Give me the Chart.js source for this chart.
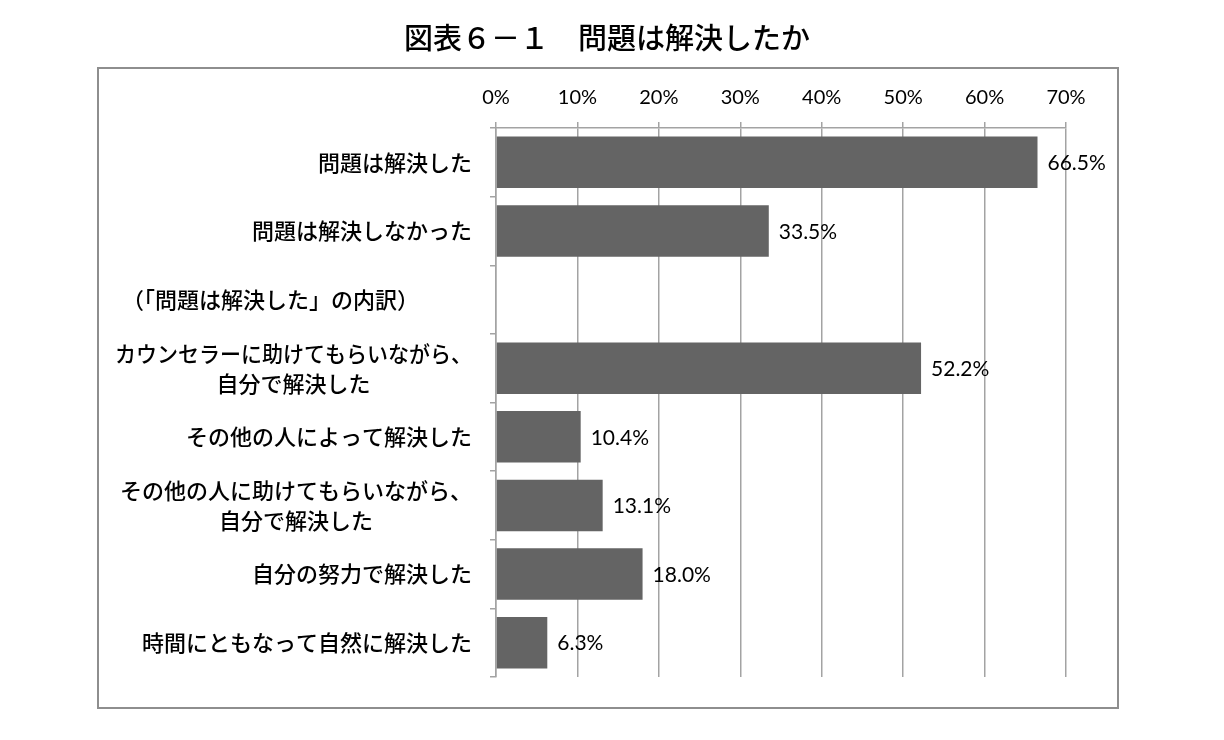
<!DOCTYPE html>
<html lang="ja">
<head>
<meta charset="utf-8">
<title>問題は解決したか</title>
<script src="https://cdn.jsdelivr.net/npm/chart.js@4.4.1/dist/chart.umd.min.js"></script>
<style>
    body { margin: 0; background: #ffffff; }
    #chart { display: block; }
</style>
</head>
<body>
<canvas id="chart" width="1224" height="740"></canvas>
<script>
const chartTitle = "図表６－１　問題は解決したか";

const categories = [
    ["問題は解決した"],
    ["問題は解決しなかった"],
    ["（「問題は解決した」の内訳）"],
    ["カウンセラーに助けてもらいながら、", "自分で解決した"],
    ["その他の人によって解決した"],
    ["その他の人に助けてもらいながら、", "自分で解決した"],
    ["自分の努力で解決した"],
    ["時間にともなって自然に解決した"]
];

const rates = [66.5, 33.5, null, 52.2, 10.4, 13.1, 18.0, 6.3];

const xTicks = [0, 10, 20, 30, 40, 50, 60, 70];

// row 2 is only a heading, drawn flush left
const headingRow = 2;

const gridColor = "#a3a3a3";
const barColor = "#646464";
const jpFont = "'Noto Sans CJK JP', 'Noto Sans', sans-serif";
const numFont = "Lato, 'Open Sans', sans-serif";

const framePlugin = {
    id: "frame",
    beforeDraw(chart) {
        const ctx = chart.ctx;
        ctx.save();
        ctx.fillStyle = "#ffffff";
        ctx.fillRect(0, 0, chart.width, chart.height);
        ctx.strokeStyle = "#8e8e8e";
        ctx.lineWidth = 2;
        ctx.strokeRect(98, 68, 1020, 640);
        ctx.fillStyle = "#000000";
        ctx.font = "500 29px " + jpFont;
        ctx.textAlign = "center";
        ctx.textBaseline = "middle";
        ctx.fillText(chartTitle, 607, 38);
        ctx.restore();
    }
};

const labelPlugin = {
    id: "rowLabels",
    afterDraw(chart) {
        const ctx = chart.ctx;
        const yScale = chart.scales.y;
        const xScale = chart.scales.x;
        const rightEdge = chart.chartArea.left - 24;
        const maxW = 357;
        ctx.save();
        ctx.fillStyle = "#000000";
        ctx.textBaseline = "middle";

        // category labels
        ctx.font = "500 22px " + jpFont;
        categories.forEach(function (lines, i) {
            const y = yScale.getPixelForValue(i);
            const lineH = 30;
            const top = y - (lines.length - 1) * lineH / 2;
            if (i === headingRow) {
                ctx.textAlign = "left";
                ctx.fillText(lines[0], 122, y);
                return;
            }
            if (lines.length === 1) {
                ctx.textAlign = "right";
                ctx.fillText(lines[0], rightEdge, y, maxW);
                return;
            }
            const w = Math.min(maxW, Math.max.apply(null, lines.map(l => ctx.measureText(l).width)));
            ctx.textAlign = "center";
            lines.forEach(function (l, k) {
                ctx.fillText(l, rightEdge - w / 2, top + k * lineH, maxW);
            });
        });

        // value labels
        ctx.font = "21px " + numFont;
        ctx.textAlign = "left";
        rates.forEach(function (v, i) {
            if (v === null) return;
            const x = xScale.getPixelForValue(v) + 10;
            const y = yScale.getPixelForValue(i);
            ctx.fillText(v.toFixed(1) + "%", x, y + 1);
        });
        ctx.restore();
    }
};

const ctx = document.getElementById("chart").getContext("2d");
const chart = new Chart(ctx, {
    type: "bar",
    data: {
        labels: categories,
        datasets: [{
            data: rates,
            backgroundColor: barColor,
            borderWidth: 0,
            barPercentage: 0.75,
            categoryPercentage: 1
        }]
    },
    options: {
        indexAxis: "y",
        responsive: false,
        animation: false,
        layout: {
            padding: { top: 80, left: 0, right: 158, bottom: 63 }
        },
        plugins: {
            legend: { display: false },
            tooltip: { enabled: false },
            title: { display: false }
        },
        scales: {
            x: {
                position: "top",
                min: 0,
                max: 70,
                afterBuildTicks: function (scale) {
                    scale.ticks = xTicks.map(v => ({ value: v }));
                },
                afterFit: function (scale) {
                    scale.height = 48;
                },
                grid: {
                    color: gridColor,
                    lineWidth: 1.5,
                    tickLength: 6
                },
                border: { display: true, color: gridColor, width: 1.5 },
                ticks: {
                    color: "#000000",
                    padding: 12,
                    font: { family: numFont, size: 20 },
                    callback: v => v + "%"
                }
            },
            y: {
                afterFit: function (scale) {
                    scale.width = 496;
                },
                grid: {
                    drawOnChartArea: false,
                    color: gridColor,
                    lineWidth: 1.5,
                    tickLength: 6,
                    offset: true
                },
                border: { display: true, color: gridColor, width: 1.5 },
                ticks: { display: false }
            }
        }
    },
    plugins: [framePlugin, labelPlugin]
});
</script>
</body>
</html>
